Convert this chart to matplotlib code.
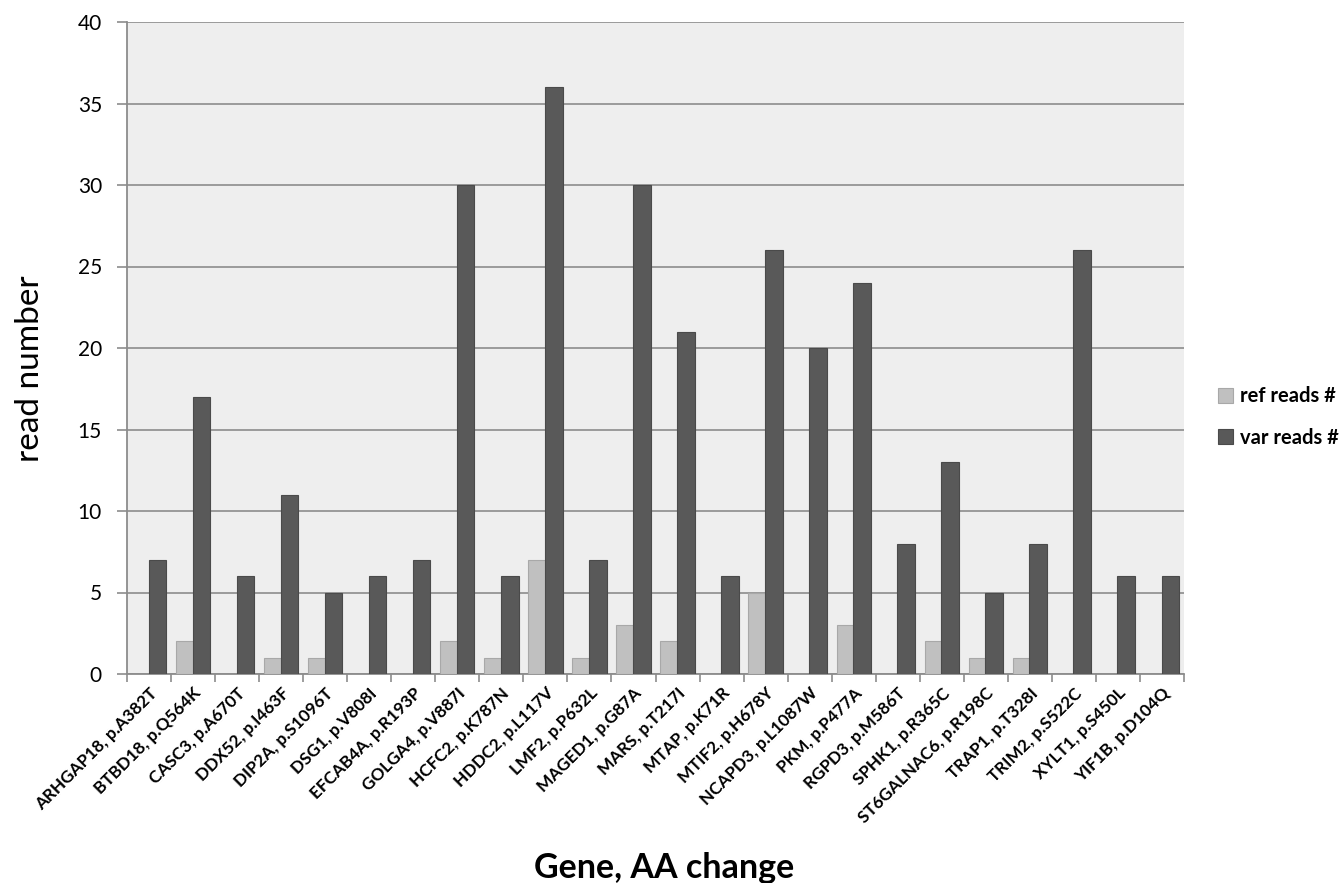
import numpy as np
import matplotlib.pyplot as plt
import matplotlib.ticker as ticker

plt.rcParams['font.family'] = ['Lato', 'DejaVu Sans']

# Gene / amino acid change labels
genes = [
    'ARHGAP18, p.A382T', 'BTBD18, p.Q564K', 'CASC3, p.A670T', 'DDX52, p.I463F',
    'DIP2A, p.S1096T', 'DSG1, p.V808I', 'EFCAB4A, p.R193P', 'GOLGA4, p.V887I',
    'HCFC2, p.K787N', 'HDDC2, p.L117V', 'LMF2, p.P632L', 'MAGED1, p.G87A',
    'MARS, p.T217I', 'MTAP, p.K71R', 'MTIF2, p.H678Y', 'NCAPD3, p.L1087W',
    'PKM, p.P477A', 'RGPD3, p.M586T', 'SPHK1, p.R365C', 'ST6GALNAC6, p.R198C',
    'TRAP1, p.T328I', 'TRIM2, p.S522C', 'XYLT1, p.S450L', 'YIF1B, p.D104Q',
]
ref_reads = [0, 2, 0, 1, 1, 0, 0, 2, 1, 7, 1, 3, 2, 0, 5, 0, 3, 0, 2, 1, 1, 0, 0, 0]
var_reads = [7, 17, 6, 11, 5, 6, 7, 30, 6, 36, 7, 30, 21, 6, 26, 20, 24, 8, 13, 5, 8, 26, 6, 6]


def main():
    W, H = 1343, 883
    fig = plt.figure(figsize=(W / 100, H / 100), dpi=100)
    # plot area in pixels: x 127..1184, y 22..674
    ax = fig.add_axes([127 / W, 1 - 674 / H, (1184 - 127) / W, (674 - 22) / H])
    ax.set_facecolor('#eeeeee')

    x = np.arange(len(genes))
    w = 0.4
    ax.bar(x - 0.19, ref_reads, w, color='#c0c0c0', edgecolor='#a8a8a8',
           linewidth=0.8, label='ref reads #', zorder=3)
    ax.bar(x + 0.19, var_reads, w, color='#595959', edgecolor='#4a4a4a',
           linewidth=0.8, label='var reads #', zorder=3)

    ax.set_xlim(-0.5, len(genes) - 0.5)
    ax.set_ylim(0, 40)
    ax.yaxis.set_major_locator(ticker.MultipleLocator(5))
    ax.grid(True, axis='y', color='#8c8c8c', linewidth=1.2, zorder=1)

    # category boundary ticks on the x axis, labels at category centres
    ax.set_xticks(np.arange(-0.5, len(genes)), minor=False)
    ax.set_xticklabels([])
    ax.set_xticks(x, minor=True)
    ax.set_xticklabels(genes, minor=True, rotation=45, ha='right',
                       rotation_mode='anchor', fontsize=12.3, fontweight='bold')
    ax.tick_params(axis='x', which='minor', length=0, pad=8)
    ax.tick_params(axis='x', which='major', length=6, color='#8c8c8c', width=1.2)
    ax.tick_params(axis='y', length=7, color='#8c8c8c', width=1.2,
                   labelsize=15, pad=11)

    for side in ['top', 'right']:
        ax.spines[side].set_visible(False)
    for side in ['left', 'bottom']:
        ax.spines[side].set_color('#8c8c8c')
        ax.spines[side].set_linewidth(1.3)

    fig.text(30 / W, 1 - 369 / H, 'read number', fontsize=24, rotation=90,
             ha='center', va='center')
    fig.text(664 / W, 1 - 878 / H, 'Gene, AA change', fontsize=24.5,
             fontweight='bold', ha='center', va='baseline')

    fig.legend(loc='center left', bbox_to_anchor=(1218 / W, 1 - 417 / H),
               frameon=False, prop={'size': 14.5, 'weight': 'bold'},
               handlelength=0.75, handleheight=0.75, handletextpad=0.35,
               labelspacing=1.05, borderpad=0, borderaxespad=0)

    fig.savefig('out.png', dpi=100)
    plt.close(fig)


if __name__ == "__main__":
    main()
